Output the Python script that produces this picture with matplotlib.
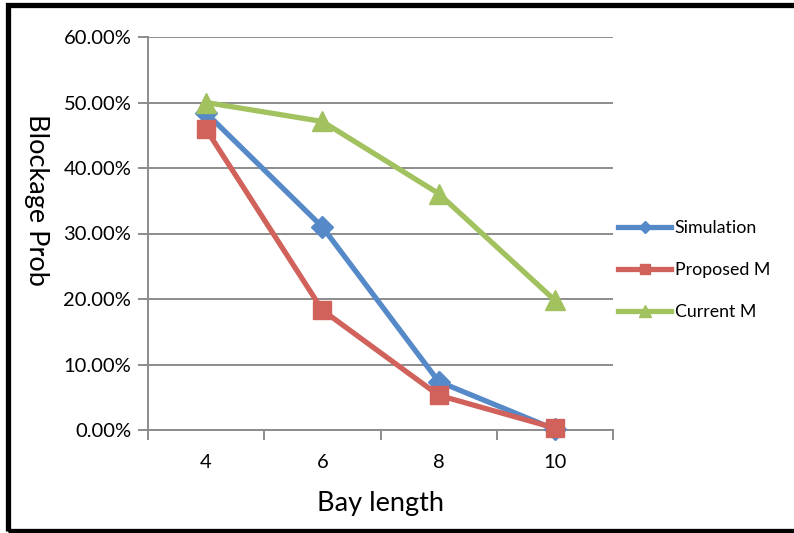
import matplotlib.pyplot as plt
from matplotlib.lines import Line2D
from matplotlib.patches import Rectangle
from matplotlib.ticker import FuncFormatter

bay_length = ["4", "6", "8", "10"]
simulation = [0.484, 0.310, 0.074, 0.001]
proposed_m = [0.459, 0.183, 0.053, 0.003]
current_m = [0.500, 0.471, 0.361, 0.198]

series = [
    ("Simulation", simulation, "#5689c8", "D", 11),
    ("Proposed M", proposed_m, "#d0615b", "s", 13),
    ("Current M", current_m, "#a2c15f", "^", 14),
]

plt.rcParams["font.family"] = ["Lato", "DejaVu Sans"]
grid_col = "#8c8c8c"

fig = plt.figure(figsize=(7.94, 5.33), dpi=100)
ax = fig.add_axes([148 / 794, 103 / 533, 465 / 794, 393 / 533])

x = list(range(len(bay_length)))
for name, vals, col, mk, ms in series:
    ax.plot(x, vals, color=col, lw=3.8, marker=mk, ms=ms,
            markeredgecolor=col, label=name, zorder=3, clip_on=False)

ax.set_xlim(-0.5, len(bay_length) - 0.5)
ax.set_ylim(0, 0.6)
ax.set_yticks([i / 10 for i in range(7)])
ax.yaxis.set_major_formatter(FuncFormatter(lambda v, _: f"{v * 100:.2f}%"))
ax.grid(axis="y", color=grid_col, lw=1.4)
ax.set_axisbelow(True)

ax.set_xticks(x)
ax.set_xticklabels(bay_length)
ax.set_xticks([i - 0.5 for i in range(len(bay_length) + 1)], minor=True)
ax.tick_params(axis="x", which="major", length=0, pad=17, labelsize=14.5)
ax.tick_params(axis="x", which="minor", length=7, width=1.4, color=grid_col)
ax.tick_params(axis="y", length=7, width=1.4, color=grid_col, pad=5, labelsize=14.5)

for side in ("top", "right"):
    ax.spines[side].set_visible(False)
for side in ("left", "bottom"):
    ax.spines[side].set_color(grid_col)
    ax.spines[side].set_linewidth(1.4)

ax.set_xlabel("Bay length", fontsize=19.5, labelpad=15)
fig.text(36 / 794, 1 - 200 / 533, "Blockage Prob", rotation=-90, fontsize=19.5,
         ha="center", va="center")

handles = [Line2D([], [], color=col, lw=3.8, marker=mk, ms=ms * 0.6,
                  markeredgecolor=col) for _, _, col, mk, ms in series]
fig.legend(handles, [s[0] for s in series], loc="center left",
           bbox_to_anchor=(602 / 794, 1 - 270 / 533), frameon=False,
           fontsize=12.8, handlelength=3.0, handletextpad=0.2, labelspacing=1.45)

# black outer frame
fig.patches.append(Rectangle((7.5 / 794, 2.5 / 533), 1.2, 1 - 7 / 533,
                             transform=fig.transFigure, fill=False,
                             edgecolor="black", lw=3.8, clip_on=False))

fig.savefig("out.png", dpi=100)
